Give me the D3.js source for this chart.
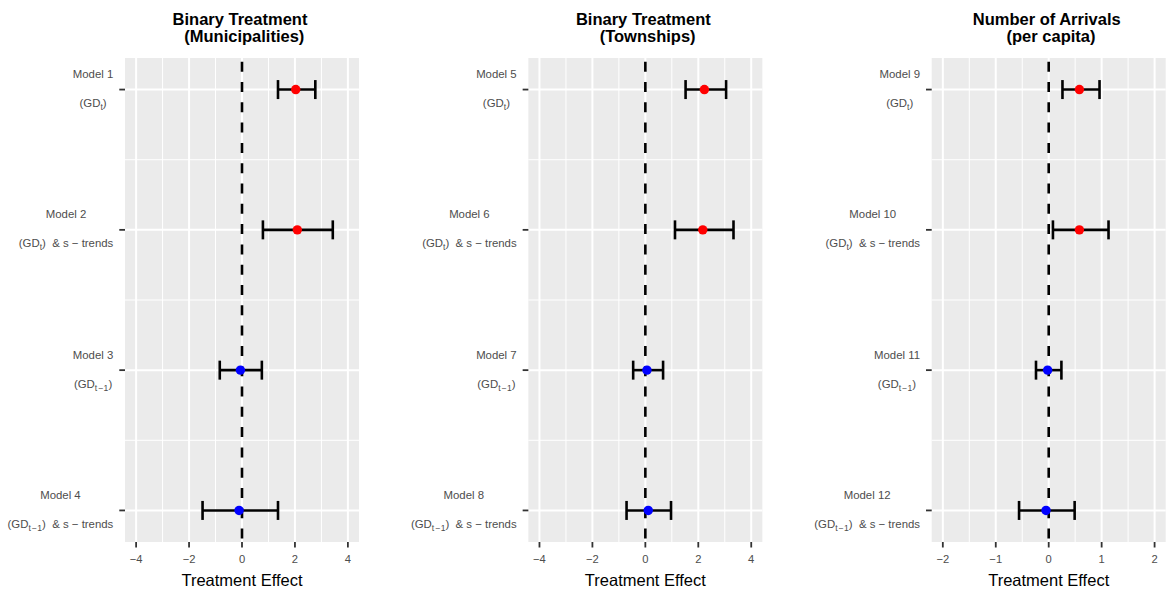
<!DOCTYPE html>
<html><head><meta charset="utf-8">
<script src="https://cdn.jsdelivr.net/npm/d3@7"></script>
<style>
body{margin:0;background:#fff}
text{font-family:"Liberation Sans",Arial,Helvetica,sans-serif}
.ylab{white-space:pre}
</style>
</head><body>
<svg id="chart" width="1168" height="592"></svg>
<script>
// ---------------- data ----------------
const panelTitles = [
  ["Binary Treatment", "(Municipalities)"],
  ["Binary Treatment", "(Townships)"],
  ["Number of Arrivals", "(per capita)"]
];
const modelNames = [
  ["Model 1", "Model 2", "Model 3", "Model 4"],
  ["Model 5", "Model 6", "Model 7", "Model 8"],
  ["Model 9", "Model 10", "Model 11", "Model 12"]
];
const specSubscripts = ["t", "t", "t\u200a\u2212\u200a1", "t\u200a\u2212\u200a1"];
const specSuffixes = [")", ")  & s \u2212 trends", ")", ")  & s \u2212 trends"];
const estimates = [
  [2.03, 2.09, -0.06, -0.11],
  [2.23, 2.17, 0.06, 0.11],
  [0.58, 0.58, -0.02, -0.05]
];
const lowerCI = [
  [1.36, 0.79, -0.84, -1.49],
  [1.52, 1.12, -0.46, -0.71],
  [0.26, 0.08, -0.24, -0.56]
];
const upperCI = [
  [2.77, 3.43, 0.75, 1.36],
  [3.05, 3.33, 0.67, 0.97],
  [0.96, 1.13, 0.24, 0.49]
];
const xDomains = [[-4.42, 4.42], [-4.42, 4.42], [-2.21, 2.21]];
const xTicks = [[-4, -2, 0, 2, 4], [-4, -2, 0, 2, 4], [-2, -1, 0, 1, 2]];
const pointColors = ["#ff0000", "#ff0000", "#0000ff", "#0000ff"];
const xTitle = "Treatment Effect";

// ---------------- layout ----------------
const firstLeft = 125, panelStep = 403.35, panelW = 234, panelTop = 58, panelH = 484;

const svg = d3.select("#chart");

panelTitles.forEach((title, p) => {
  const g = svg.append("g").attr("transform", `translate(${firstLeft + p * panelStep},${panelTop})`);
  const x = d3.scaleLinear().domain(xDomains[p]).range([0, panelW]);
  const idx = d3.range(modelNames[p].length);
  const y = d3.scalePoint().domain(idx).range([0, panelH]).padding(0.225);

  // background
  g.append("rect").attr("width", panelW).attr("height", panelH).attr("fill", "#ebebeb");

  // minor grid
  const tk = xTicks[p];
  const minorX = d3.range(tk.length - 1).map(i => (tk[i] + tk[i + 1]) / 2);
  g.selectAll(".mgx").data(minorX).join("line")
    .attr("x1", d => x(d)).attr("x2", d => x(d)).attr("y1", 0).attr("y2", panelH)
    .attr("stroke", "#fff").attr("stroke-width", 1);
  const minorY = d3.range(idx.length - 1).map(i => (y(i) + y(i + 1)) / 2);
  g.selectAll(".mgy").data(minorY).join("line")
    .attr("x1", 0).attr("x2", panelW).attr("y1", d => d).attr("y2", d => d)
    .attr("stroke", "#fff").attr("stroke-width", 1);
  // major grid
  g.selectAll(".Mgx").data(tk).join("line")
    .attr("x1", d => x(d)).attr("x2", d => x(d)).attr("y1", 0).attr("y2", panelH)
    .attr("stroke", "#fff").attr("stroke-width", 2);
  g.selectAll(".Mgy").data(idx).join("line")
    .attr("x1", 0).attr("x2", panelW).attr("y1", d => y(d)).attr("y2", d => y(d))
    .attr("stroke", "#fff").attr("stroke-width", 2);

  // zero reference line
  g.append("line").attr("x1", x(0)).attr("x2", x(0)).attr("y1", 0).attr("y2", panelH)
    .attr("stroke", "#000").attr("stroke-width", 2.6)
    .attr("stroke-dasharray", "10,10.3").attr("stroke-dashoffset", 16.6);

  // error bars
  const eb = g.append("g").attr("stroke", "#000").attr("stroke-width", 2.6).attr("fill", "none");
  idx.forEach(i => {
    const yy = y(i);
    eb.append("line").attr("x1", x(lowerCI[p][i])).attr("x2", x(upperCI[p][i])).attr("y1", yy).attr("y2", yy);
    eb.append("line").attr("x1", x(lowerCI[p][i])).attr("x2", x(lowerCI[p][i])).attr("y1", yy - 9.5).attr("y2", yy + 9.5);
    eb.append("line").attr("x1", x(upperCI[p][i])).attr("x2", x(upperCI[p][i])).attr("y1", yy - 9.5).attr("y2", yy + 9.5);
  });
  // points
  g.selectAll(".pt").data(idx).join("circle")
    .attr("cx", i => x(estimates[p][i])).attr("cy", i => y(i)).attr("r", 4.7)
    .attr("fill", i => pointColors[i]);

  // x axis
  const xa = g.append("g").attr("transform", `translate(0,${panelH})`);
  xa.selectAll(".tk").data(tk).join("line")
    .attr("x1", d => x(d)).attr("x2", d => x(d)).attr("y1", 0).attr("y2", 5.5)
    .attr("stroke", "#333").attr("stroke-width", 1.8);
  xa.selectAll(".tl").data(tk).join("text")
    .attr("x", d => x(d)).attr("y", 21.3).attr("text-anchor", "middle")
    .attr("font-size", 11.2).attr("fill", "#4d4d4d")
    .text(d => d3.format("")(d));
  g.append("text").attr("x", panelW / 2).attr("y", panelH + 44)
    .attr("text-anchor", "middle").attr("font-size", 16.5).attr("fill", "#000").text(xTitle);

  // y axis ticks + labels
  g.selectAll(".ytk").data(idx).join("line")
    .attr("x1", -5.7).attr("x2", 0).attr("y1", d => y(d)).attr("y2", d => y(d))
    .attr("stroke", "#333").attr("stroke-width", 1.8);
  idx.forEach(i => {
    const yy = y(i);
    const t1 = g.append("text").attr("class", "ylab").attr("font-size", 11.4).attr("fill", "#4d4d4d")
      .attr("text-anchor", "middle").attr("y", yy - 11.5).text(modelNames[p][i]);
    const t2 = g.append("text").attr("class", "ylab").attr("font-size", 11.4).attr("fill", "#4d4d4d")
      .attr("text-anchor", "middle").attr("y", yy + 17.5);
    t2.append("tspan").text("(GD");
    t2.append("tspan").attr("font-size", 8.6).attr("dy", 3).text(specSubscripts[i]);
    t2.append("tspan").attr("dy", -3).text(specSuffixes[i]);
    const w = Math.max(t1.node().getComputedTextLength(), t2.node().getComputedTextLength());
    const cx = -11.7 - w / 2;
    t1.attr("x", cx); t2.attr("x", cx);
  });

  // title
  const tt = g.append("text").attr("font-size", 16.5).attr("font-weight", "bold")
    .attr("text-anchor", "middle").attr("fill", "#000");
  tt.append("tspan").attr("x", panelW / 2 - 2).attr("y", 24.8 - panelTop).text(title[0]);
  tt.append("tspan").attr("x", panelW / 2 + 2.3).attr("y", 42.3 - panelTop).text(title[1]);
});
</script>
</body></html>
